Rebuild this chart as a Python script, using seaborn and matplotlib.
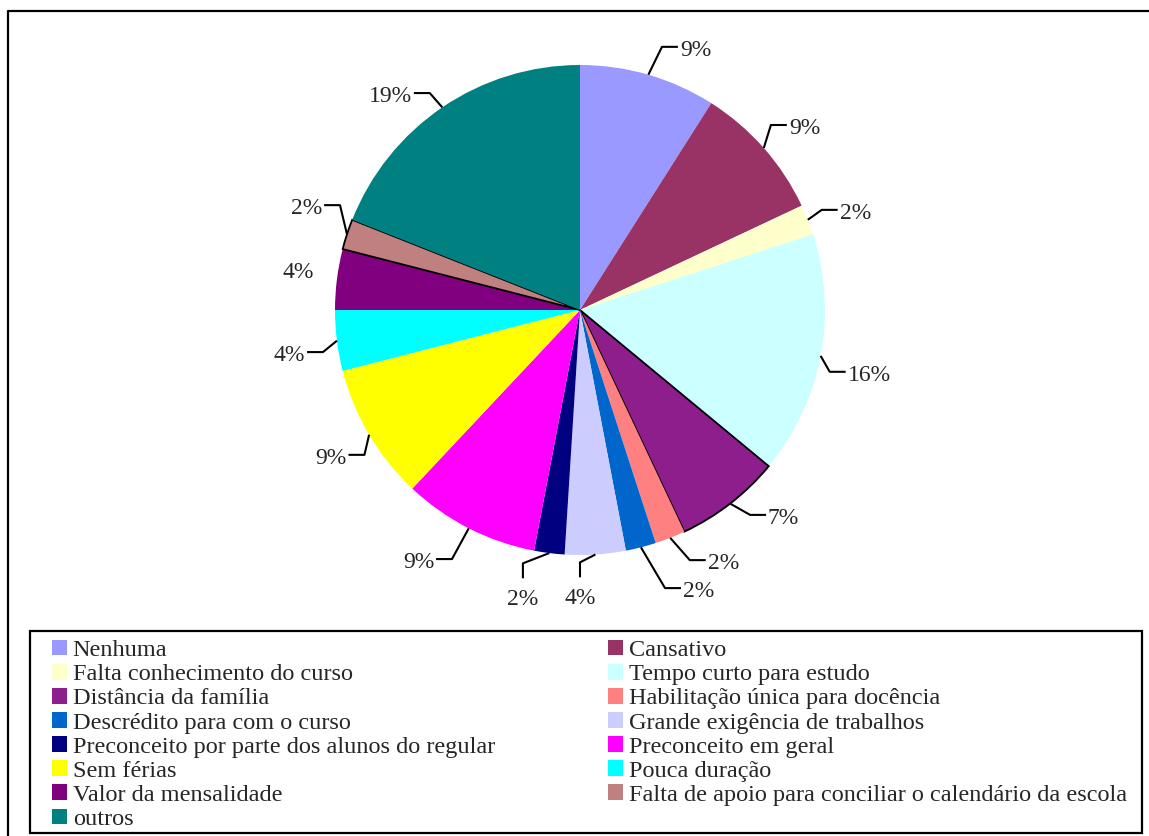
import numpy as np
import matplotlib
matplotlib.use("Agg")
import matplotlib.pyplot as plt
from matplotlib.patches import Patch, Rectangle
from matplotlib.lines import Line2D
import seaborn as sns

# Motivos apontados (percentual de respostas)
categorias = [
    "Nenhuma",
    "Cansativo",
    "Falta conhecimento do curso",
    "Tempo curto para estudo",
    "Distância da família",
    "Habilitação única para docência",
    "Descrédito para com o curso",
    "Grande exigência de trabalhos",
    "Preconceito por parte dos alunos do regular",
    "Preconceito em geral",
    "Sem férias",
    "Pouca duração",
    "Valor da mensalidade",
    "Falta de apoio para conciliar o calendário da escola",
    "outros",
]
percentuais = [9, 9, 2, 16, 7, 2, 2, 4, 2, 9, 9, 4, 4, 2, 19]
cores = [
    "#9999FF", "#993366", "#FFFFCC", "#CCFFFF", "#8E1E8C",
    "#FF8080", "#0066CC", "#CCCCFF", "#000080", "#FF00FF",
    "#FFFF00", "#00FFFF", "#800080", "#C08080", "#008080",
]
# fatias desenhadas com contorno preto
contornadas = ["Distância da família",
               "Falta de apoio para conciliar o calendário da escola"]

# posição do cotovelo de cada rótulo: (ângulo horário a partir do topo, raio relativo, tipo)
rotulo_layout = [
    (17.3, 1.125, "h"), (45.9, 1.085, "h"), (67.5, 1.068, "h"),
    (103.9, 1.05, "h"), (140.3, 1.087, "h"), (156.3, 1.115, "h"),
    (163.0, 1.187, "h"), (180.0, 1.03, "v"), (192.7, 1.06, "v"),
    (207.2, 1.143, "h"), (236.1, 1.06, "h"), (260.7, 1.063, "h"),
    (278.0, 1.16, "n"), (293.6, 1.069, "h"), (325.3, 1.077, "h"),
]

sns.set_theme(style="white")
plt.rcParams["font.family"] = ["Liberation Serif", "DejaVu Serif"]

W, H, DPI = 1149, 836, 100
fig = plt.figure(figsize=(W / DPI, H / DPI), dpi=DPI)
fig.patch.set_facecolor("white")

# eixos do tamanho da figura: 245 px por unidade, centro do gráfico em (580, 310)
cx, cy, R = 580, 310, 245
ax = fig.add_axes([0, 0, 1, 1])
palette = sns.color_palette(cores)
wedges, _ = ax.pie(percentuais, colors=palette, startangle=90,
                   counterclock=False, radius=1.0,
                   wedgeprops=dict(linewidth=0))
for w, nome in zip(wedges, categorias):
    if nome in contornadas:
        w.set_edgecolor("black")
        w.set_linewidth(1.3)
ax.set_xlim(-cx / R, (W - cx) / R)
ax.set_ylim(-(H - cy) / R, cy / R)
ax.set_aspect("auto")
ax.axis("off")

# rótulos percentuais com linhas de chamada
tam_rot = 17
seg = 0.065
lw_linha = 1.5
acum = np.cumsum([0] + percentuais[:-1])
for v, a0, (ang, rr, tipo) in zip(percentuais, acum, rotulo_layout):
    meio = np.deg2rad(360 * (a0 + v / 2) / 100)
    x0, y0 = np.sin(meio), np.cos(meio)
    t = np.deg2rad(ang)
    xe, ye = rr * np.sin(t), rr * np.cos(t)
    txt = f"{v}%"
    if tipo == "h":
        sgn = 1 if xe >= 0 else -1
        x1 = xe + sgn * seg
        ax.plot([x0, xe, x1], [y0, ye, ye], color="black", lw=lw_linha,
                solid_capstyle="butt", clip_on=False)
        ax.text(x1 + sgn * 0.008, ye - 0.014, txt, fontsize=tam_rot,
                ha="left" if sgn > 0 else "right", va="center")
    elif tipo == "v":
        y1 = ye - 0.061
        ax.plot([x0, xe, xe], [y0, ye, y1], color="black", lw=lw_linha,
                solid_capstyle="butt", clip_on=False)
        ax.text(xe, y1 - 0.045, txt, fontsize=tam_rot, ha="center", va="top")
    else:
        ax.text(xe, ye - 0.008, txt, fontsize=tam_rot, ha="center", va="center")

# legenda em duas colunas, preenchida por linhas
tam_leg = 17.5
handles = [Patch(facecolor=c, edgecolor="none") for c in palette]
col1 = list(range(0, len(categorias), 2))
col2 = list(range(1, len(categorias), 2))
leg_kw = dict(loc="upper left", frameon=False, fontsize=tam_leg, borderpad=0,
              borderaxespad=0, handlelength=0.6, handleheight=0.6,
              handletextpad=0.25, labelspacing=0.115)
fig.legend([handles[i] for i in col1], [categorias[i] for i in col1],
           bbox_to_anchor=(52 / W, 1 - 640 / H), **leg_kw)
fig.legend([handles[i] for i in col2], [categorias[i] for i in col2],
           bbox_to_anchor=(608 / W, 1 - 640 / H), **leg_kw)

# moldura da legenda
fig.add_artist(Rectangle((30 / W, 1 - 833 / H), 1112 / W, 202 / H,
                         transform=fig.transFigure, fill=False,
                         edgecolor="black", lw=1.6))
# borda externa (lados esquerdo e superior visíveis)
fig.add_artist(Line2D([8 / W, 8 / W, 1.02], [-0.02, 1 - 11 / H, 1 - 11 / H],
                      transform=fig.transFigure, color="black", lw=1.6))

fig.savefig("out.png", dpi=DPI, facecolor="white")
